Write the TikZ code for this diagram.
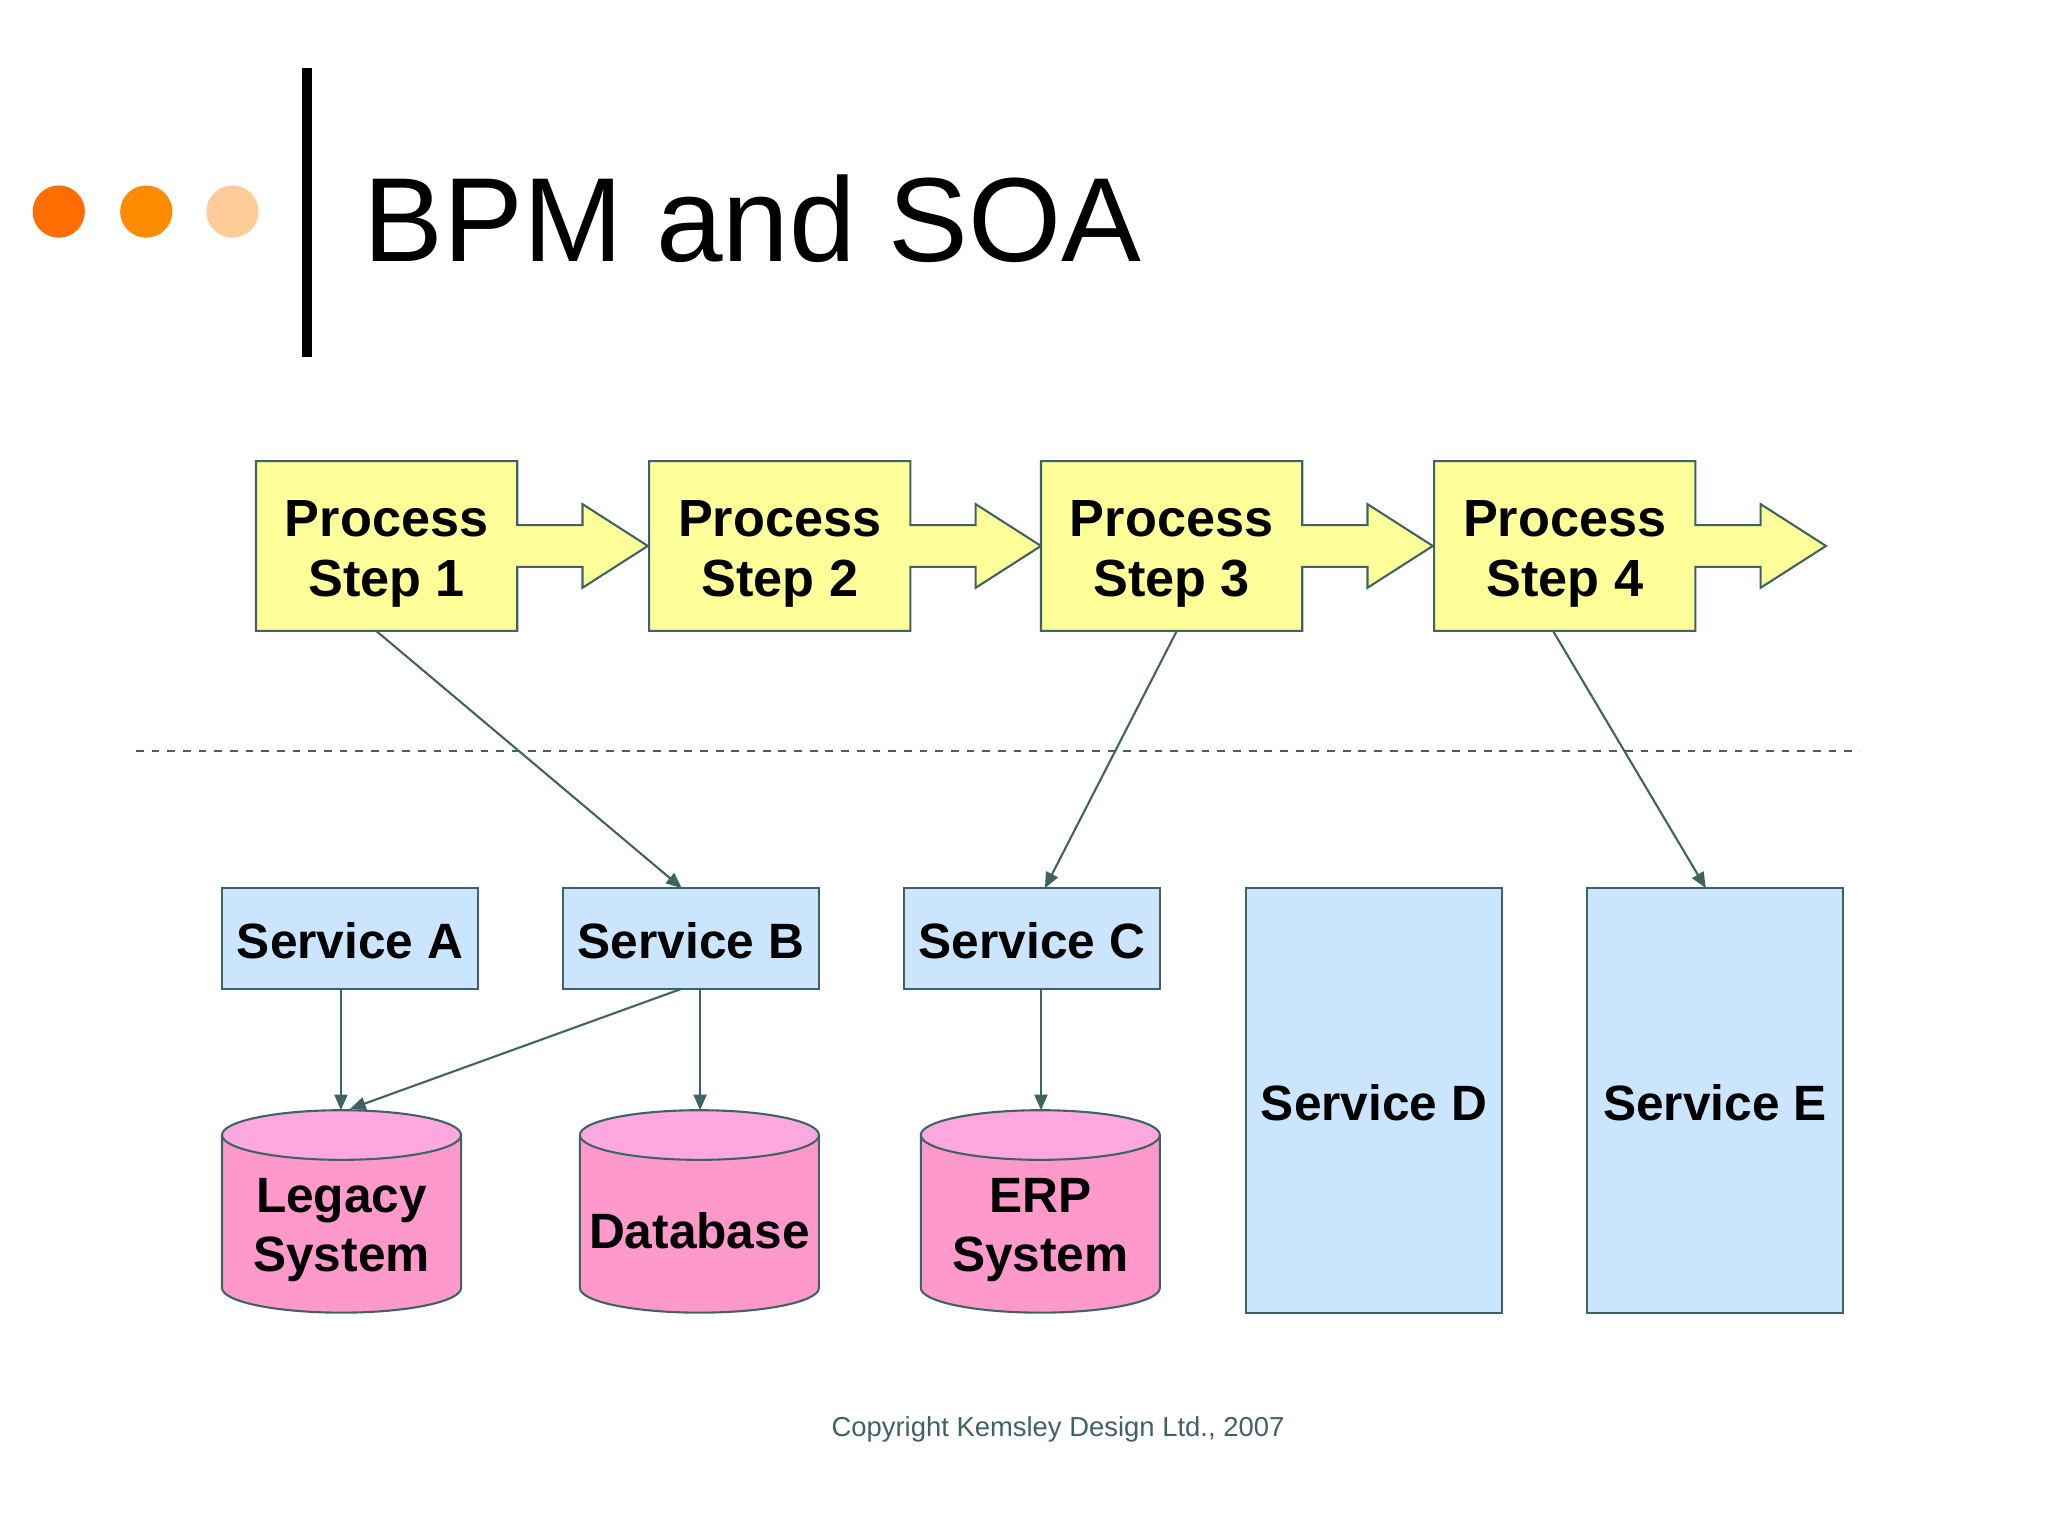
\documentclass[tikz,border=0pt]{standalone}
\usepackage{fontspec}
\setmainfont{Liberation Sans}
\usetikzlibrary{arrows.meta}
\definecolor{edge}{HTML}{3F6363}
\definecolor{yel}{HTML}{FFFF99}
\definecolor{svc}{HTML}{CCE5FF}
\definecolor{pinkb}{HTML}{FF99CC}
\definecolor{pinkt}{HTML}{FFA8E0}
\begin{document}
\begin{tikzpicture}[x=0.5pt,y=-0.5pt,
  ln/.style={draw=edge,line width=0.8pt},
  arr/.style={ln,-{Triangle[length=6pt,width=5pt]}},
  steptxt/.style={font=\fontsize{20}{23}\selectfont\bfseries,align=center},
  svct/.style={font=\fontsize{19}{22.5}\selectfont\bfseries,align=center}]
\useasboundingbox (0,0) rectangle (1568,1176);
\fill[white] (0,0) rectangle (1568,1176);
% header
\fill[orange!85!red] (45,162) circle (20);
\fill[orange!90!yellow] (112,162) circle (20);
\fill[orange!40] (178,162) circle (20);
\draw[line width=3.5pt] (235,52) -- (235,273);
\node[anchor=base west,font=\fontsize{45.8}{52}\selectfont,inner sep=0] (title) at (278,200) {BPM and SOA};
% process steps
\foreach \i/\x in {1/196,2/497,3/797,4/1098}{
  \draw[ln,fill=yel] (\x,353) -- ++(200,0) -- ++(0,49) -- ++(50,0) -- ++(0,-16) -- ++(50,32) -- ++(-50,32) -- ++(0,-16) -- ++(-50,0) -- ++(0,49) -- ++(-200,0) -- cycle;
  \node[steptxt] (p\i) at (\x+100,424) {Process\\Step \i};
}
\draw[ln,dashed] (104,575) -- (1424,575);
% services
\foreach \n/\x/\h in {A/170/757,B/431/757,C/692/757,D/954/1005,E/1215/1005}{
  \draw[ln,fill=svc] (\x,680) rectangle (\x+196,\h);
  \node[svct] (s\n) at (\x+98,{(680+\h)/2+2}) {Service \n};
}
% cylinders
\foreach \nm/\x/\t in {leg/170/{Legacy\\System},db/444/{Database},erp/705/{ERP\\System}}{
  \draw[ln,fill=pinkb] (\x,869) -- (\x,986) arc[start angle=180,end angle=0,x radius=91.5,y radius=19] -- (\x+183,869);
  \draw[ln,fill=pinkt] (\x+91.5,869) ellipse[x radius=91.5,y radius=19];
  \node[svct] (\nm) at (\x+91.5,942) {\t};
}
% connectors
\draw[arr] (288,483) -- (522,680);
\draw[arr] (901,483) -- (800,680);
\draw[arr] (1189,483) -- (1306,680);
\draw[arr] (261,757) -- (261,850);
\draw[arr] (522,757) -- (268,849);
\draw[arr] (536,757) -- (536,850);
\draw[arr] (797,757) -- (797,850);
\node[text=edge,font=\fontsize{10.5}{12}\selectfont] (copy) at (810,1094) {Copyright Kemsley Design Ltd., 2007};
\end{tikzpicture}
\end{document}
